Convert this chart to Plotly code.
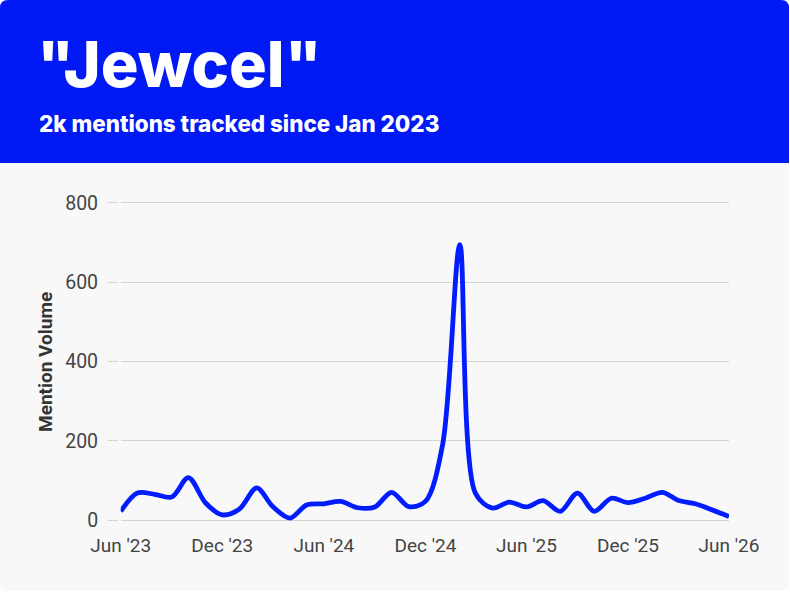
import plotly.graph_objects as go

# ---- data ----
months = [
    "2023-06-01", "2023-07-01", "2023-08-01", "2023-09-01", "2023-10-01", "2023-11-01",
    "2023-12-01", "2024-01-01", "2024-02-01", "2024-03-01", "2024-04-01", "2024-05-01",
    "2024-06-01", "2024-07-01", "2024-08-01", "2024-09-01", "2024-10-01", "2024-11-01",
    "2024-12-01", "2025-01-01", "2025-02-01", "2025-03-01", "2025-04-01", "2025-05-01",
    "2025-06-01", "2025-07-01", "2025-08-01", "2025-09-01", "2025-10-01", "2025-11-01",
    "2025-12-01", "2026-01-01", "2026-02-01", "2026-03-01", "2026-04-01", "2026-05-01",
    "2026-06-01",
]
mentions = [
    22, 68, 65, 58, 107, 43,
    13, 28, 81, 34, 5, 38,
    41, 47, 31, 33, 70, 34,
    47, 190, 695, 68, 30, 45,
    33, 49, 22, 68, 22, 55,
    44, 55, 70, 50, 41, 26,
    9,
]
title_text = '"Jewcel"'
subtitle_text = "2k mentions tracked since Jan 2023"
y_title = "Mention Volume"
y_ticks = [0, 200, 400, 600, 800]

# ---- layout geometry ----
W, H = 790, 592
ML, MR, MT, MB = 110, 61, 199, 68
PW, PH = W - ML - MR, H - MT - MB
BLUE = "#0019F5"
LINE = "#001CFF"
BG = "#F8F8F8"


def px(x):
    return (x - ML) / PW


def py(y):
    return (H - MB - y) / PH


fig = go.Figure()
fig.add_trace(go.Scatter(
    x=months, y=mentions, mode="lines",
    line=dict(color=LINE, width=4.8, shape="spline", smoothing=0.9),
    hoverinfo="x+y", showlegend=False,
))

r = 8
x0, x1, y0, y1 = 0, 789, 0, 591
card = (f"M {px(x0)},{py(y0 + r)} Q {px(x0)},{py(y0)} {px(x0 + r)},{py(y0)} "
        f"L {px(x1 - r)},{py(y0)} Q {px(x1)},{py(y0)} {px(x1)},{py(y0 + r)} "
        f"L {px(x1)},{py(y1 - r)} Q {px(x1)},{py(y1)} {px(x1 - r)},{py(y1)} "
        f"L {px(x0 + r)},{py(y1)} Q {px(x0)},{py(y1)} {px(x0)},{py(y1 - r)} Z")
hy = 163
header = (f"M {px(x0)},{py(hy)} L {px(x0)},{py(y0 + r)} Q {px(x0)},{py(y0)} {px(x0 + r)},{py(y0)} "
          f"L {px(x1 - r)},{py(y0)} Q {px(x1)},{py(y0)} {px(x1)},{py(y0 + r)} "
          f"L {px(x1)},{py(hy)} Z")

fig.update_layout(
    width=W, height=H,
    margin=dict(l=ML, r=MR, t=MT, b=MB, pad=0),
    paper_bgcolor="#FFFFFF",
    plot_bgcolor="rgba(0,0,0,0)",
    shapes=[
        dict(type="path", path=card, xref="paper", yref="paper",
             fillcolor=BG, line=dict(width=0), layer="below"),
        dict(type="path", path=header, xref="paper", yref="paper",
             fillcolor=BLUE, line=dict(width=0), layer="below"),
    ],
    annotations=[
        dict(text=title_text, x=px(35), y=py(64), xref="paper", yref="paper",
             xanchor="left", yanchor="middle", showarrow=False,
             font=dict(family="Inter", size=63, color="white", weight=800)),
        dict(text=subtitle_text, x=px(37), y=py(123), xref="paper", yref="paper",
             xanchor="left", yanchor="middle", showarrow=False,
             font=dict(family="Inter", size=22.4, color="white", weight=800)),
        dict(text=y_title, x=px(45), y=py(362), xref="paper", yref="paper",
             xanchor="center", yanchor="middle", showarrow=False, textangle=-90,
             font=dict(family="Roboto", size=19, color="#333333", weight=700)),
    ],
    xaxis=dict(
        domain=[px(120.7), 1],
        range=["2023-06-01", "2026-06-01"],
        tick0="2023-06-01", dtick="M6", tickformat="%b '%y",
        showgrid=False, zeroline=False, showline=False, ticks="",
        tickfont=dict(family="Roboto", size=19, color="#444444"),
        ticklabelstandoff=8,
        fixedrange=True,
    ),
    yaxis=dict(
        range=[-10, 810],
        tickvals=y_ticks,
        anchor="free", position=px(118),
        showgrid=True, gridcolor="#D3D3D3", gridwidth=1.2,
        zeroline=False, showline=False,
        ticks="outside", ticklen=10, tickcolor="#D3D3D3", tickwidth=1.2,
        tickfont=dict(family="Roboto", size=19.5, color="#444444"),
        ticklabelstandoff=6,
        fixedrange=True,
    ),
)

fig.write_html("out.html")
